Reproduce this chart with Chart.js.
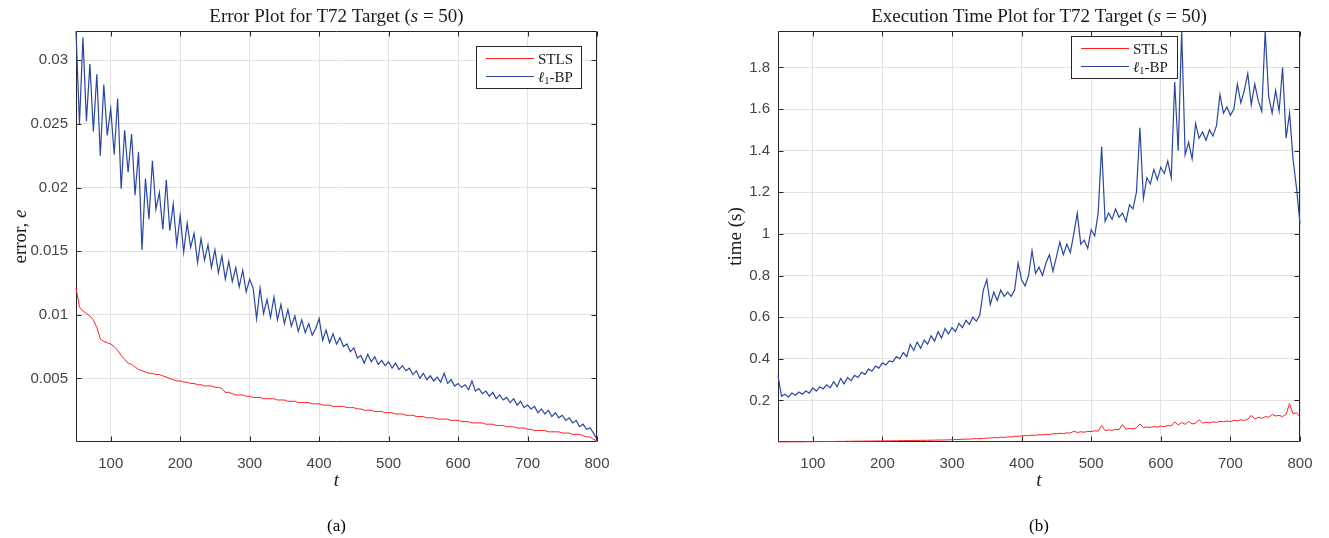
<!DOCTYPE html>
<html><head><meta charset="utf-8">
<script src="https://cdn.jsdelivr.net/npm/chart.js@4.4.1/dist/chart.umd.min.js"></script>
<style>
html,body{margin:0;padding:0;background:#fff;width:1329px;height:538px;overflow:hidden}
#w1{position:absolute;left:0;top:0;width:664px;height:538px}
#w2{position:absolute;left:664px;top:0;width:665px;height:538px}
canvas{display:block}
</style></head><body>
<div id="w1"><canvas id="c1" width="664" height="538"></canvas></div>
<div id="w2"><canvas id="c2" width="665" height="538"></canvas></div>
<script>
// ---- data ----
const T = [50,55,60,65,70,75,80,85,90,95,100,105,110,115,120,125,130,135,140,145,
150,155,160,165,170,175,180,185,190,195,200,205,210,215,220,225,230,235,240,245,
250,255,260,265,270,275,280,285,290,295,300,305,310,315,320,325,330,335,340,345,
350,355,360,365,370,375,380,385,390,395,400,405,410,415,420,425,430,435,440,445,
450,455,460,465,470,475,480,485,490,495,500,505,510,515,520,525,530,535,540,545,
550,555,560,565,570,575,580,585,590,595,600,605,610,615,620,625,630,635,640,645,
650,655,660,665,670,675,680,685,690,695,700,705,710,715,720,725,730,735,740,745,
750,755,760,765,770,775,780,785,790,795,800];

const errSTLS = [
0.0121,0.0106,0.0103,0.0101,0.0099,0.0096,0.0090,0.0081,0.0079,0.0078,
0.0077,0.0075,0.0072,0.0068,0.0065,0.0062,0.0061,0.0059,0.0057,0.0056,
0.0055,0.0054,0.0054,0.0053,0.0053,0.0052,0.0051,0.0050,0.0049,0.0048,
0.0048,0.0047,0.0047,0.0046,0.0046,0.0045,0.0045,0.0044,0.0044,0.0044,
0.0043,0.0043,0.0042,0.0039,0.0039,0.0038,0.0037,0.0037,0.0037,0.0036,
0.0036,0.0035,0.0035,0.0035,0.0034,0.0034,0.0034,0.0034,0.0033,0.0033,
0.0033,0.0032,0.0032,0.0032,0.0031,0.0031,0.0031,0.0031,0.0030,0.0030,
0.0030,0.0029,0.0029,0.0029,0.0028,0.0028,0.0028,0.0028,0.0027,0.0027,
0.0027,0.0026,0.0026,0.0025,0.0025,0.0025,0.0024,0.0024,0.0024,0.0023,
0.0023,0.0023,0.0022,0.0022,0.0022,0.0021,0.0021,0.0021,0.0020,0.0020,
0.0020,0.0019,0.0019,0.0019,0.0018,0.0018,0.0018,0.0018,0.0017,0.0017,
0.0017,0.0016,0.0016,0.0016,0.0015,0.0015,0.0015,0.0015,0.0014,0.0014,
0.0014,0.0013,0.0013,0.0013,0.0012,0.0012,0.0012,0.0011,0.0011,0.0011,
0.0010,0.0010,0.0009,0.0009,0.0009,0.0009,0.0008,0.0008,0.0008,0.0008,
0.0007,0.0007,0.0007,0.0006,0.0006,0.0006,0.0005,0.0004,0.0004,0.0002,
0.0001];

const errBP = [
0.0323,0.0250,0.0318,0.0252,0.0297,0.0244,0.0289,0.0225,0.0281,0.0241,
0.0262,0.0226,0.0270,0.0199,0.0245,0.0212,0.0242,0.0194,0.0228,0.0151,
0.0207,0.0175,0.0221,0.0183,0.0196,0.0167,0.0206,0.0166,0.0187,0.0155,
0.0178,0.0149,0.0172,0.0153,0.0164,0.0141,0.0160,0.0143,0.0155,0.0137,
0.0151,0.0133,0.0146,0.0128,0.0142,0.0126,0.0137,0.0122,0.0135,0.0118,
0.0128,0.0121,0.0097,0.0121,0.0101,0.0112,0.0098,0.0114,0.0096,0.0108,
0.0093,0.0104,0.0091,0.0099,0.0087,0.0096,0.0086,0.0093,0.0084,0.0089,
0.0097,0.0080,0.0088,0.0078,0.0085,0.0077,0.0082,0.0075,0.0077,0.0071,
0.0074,0.0066,0.0068,0.0062,0.0069,0.0063,0.0067,0.0061,0.0064,0.0060,
0.0063,0.0058,0.0062,0.0057,0.0060,0.0056,0.0058,0.0053,0.0056,0.0050,
0.0054,0.0049,0.0052,0.0048,0.0051,0.0047,0.0054,0.0046,0.0049,0.0044,
0.0046,0.0043,0.0045,0.0041,0.0048,0.0040,0.0042,0.0038,0.0040,0.0036,
0.0039,0.0034,0.0037,0.0033,0.0035,0.0031,0.0034,0.0029,0.0032,0.0027,
0.0029,0.0026,0.0028,0.0023,0.0026,0.0022,0.0025,0.0020,0.0023,0.0019,
0.0021,0.0017,0.0019,0.0015,0.0017,0.0012,0.0014,0.0010,0.0011,0.0007,
0.0002];

const timeSTLS = [
0.0005,0.0005,0.0005,0.001,0.001,0.001,0.001,0.001,0.0015,0.0015,
0.0015,0.002,0.002,0.002,0.0025,0.0025,0.0025,0.003,0.003,0.003,
0.0035,0.0035,0.004,0.004,0.004,0.0045,0.0045,0.0045,0.005,0.005,
0.005,0.0055,0.0055,0.006,0.006,0.0065,0.0065,0.007,0.007,0.0075,
0.0075,0.008,0.008,0.0085,0.0085,0.009,0.0095,0.0095,0.010,0.0105,
0.011,0.012,0.012,0.013,0.014,0.014,0.015,0.016,0.016,0.017,
0.019,0.019,0.021,0.020,0.023,0.022,0.025,0.024,0.027,0.028,
0.029,0.031,0.030,0.033,0.032,0.035,0.034,0.037,0.036,0.040,
0.039,0.042,0.040,0.044,0.043,0.052,0.046,0.049,0.047,0.051,
0.050,0.054,0.052,0.079,0.055,0.058,0.056,0.061,0.059,0.084,
0.062,0.065,0.063,0.068,0.087,0.069,0.072,0.070,0.074,0.072,
0.076,0.074,0.079,0.077,0.097,0.082,0.094,0.085,0.099,0.087,
0.090,0.107,0.091,0.095,0.092,0.097,0.094,0.099,0.097,0.101,
0.098,0.104,0.101,0.107,0.104,0.110,0.128,0.111,0.118,0.114,
0.122,0.119,0.132,0.125,0.128,0.122,0.133,0.185,0.135,0.142,
0.120];

const timeBP = [
0.32,0.22,0.23,0.215,0.235,0.225,0.24,0.23,0.245,0.235,
0.26,0.245,0.265,0.255,0.275,0.26,0.29,0.265,0.305,0.28,
0.31,0.295,0.32,0.31,0.335,0.325,0.35,0.34,0.365,0.355,
0.38,0.37,0.39,0.385,0.41,0.40,0.43,0.41,0.47,0.44,
0.48,0.45,0.49,0.47,0.51,0.485,0.53,0.50,0.545,0.52,
0.55,0.53,0.57,0.55,0.585,0.565,0.60,0.58,0.61,0.73,
0.78,0.66,0.72,0.68,0.73,0.70,0.72,0.70,0.73,0.86,
0.78,0.75,0.80,0.92,0.81,0.84,0.80,0.86,0.90,0.82,
0.89,0.96,0.90,0.95,0.91,1.00,1.10,0.95,0.97,0.93,
1.02,0.99,1.10,1.42,1.06,1.10,1.07,1.12,1.08,1.10,
1.06,1.14,1.12,1.20,1.51,1.17,1.27,1.24,1.31,1.26,
1.32,1.29,1.35,1.27,1.73,1.40,1.975,1.38,1.44,1.36,
1.53,1.46,1.49,1.45,1.50,1.47,1.52,1.67,1.58,1.61,
1.57,1.60,1.72,1.63,1.69,1.77,1.62,1.72,1.64,1.59,
1.975,1.66,1.58,1.69,1.59,1.80,1.46,1.58,1.36,1.22,
1.05];

const xTicks = [100,200,300,400,500,600,700,800];
const xTickLabels = ['100','200','300','400','500','600','700','800'];
const errTicks = [0.005,0.01,0.015,0.02,0.025,0.03];
const errTickLabels = ['0.005','0.01','0.015','0.02','0.025','0.03'];
const timeTicks = [0.2,0.4,0.6,0.8,1,1.2,1.4,1.6,1.8];
const timeTickLabels = ['0.2','0.4','0.6','0.8','1','1.2','1.4','1.6','1.8'];
const seriesNames = ['STLS','ℓ1-BP'];

// ---- style ----
const RED = '#ff1f1f';
const BLUE = '#2947a3';
const GRID = '#e2e2e2';
const AXIS = '#262626';
const TICKC = '#444444';
const SERIF = '"Liberation Serif","DejaVu Serif",serif';
const SANS = '"Liberation Sans",Arial,sans-serif';

function drawRuns(ctx, runs, x, y, center){
  let w = 0;
  runs.forEach(r => { ctx.font = r.f; w += ctx.measureText(r.t).width; });
  let cx = center ? x - w/2 : x;
  ctx.textAlign = 'left';
  runs.forEach(r => { ctx.font = r.f; ctx.fillText(r.t, cx, y + (r.dy||0)); cx += ctx.measureText(r.t).width; });
}

const framePlugin = {
  id: 'frame',
  beforeDatasetsDraw(chart){
    const {ctx, chartArea:a, scales} = chart;
    const L = Math.round(a.left)+0.5, R = Math.round(a.right)-0.5, Tp = Math.round(a.top)+0.5, B = Math.round(a.bottom)-0.5;
    ctx.save();
    ctx.strokeStyle = AXIS; ctx.lineWidth = 1;
    ctx.beginPath();
    ctx.rect(L, Tp, R-L, B-Tp);
    const tl = 5;
    scales.x.ticks.forEach(t => {
      const px = Math.round(scales.x.getPixelForValue(t.value)) + 0.5;
      ctx.moveTo(px, B); ctx.lineTo(px, B - tl);
      ctx.moveTo(px, Tp); ctx.lineTo(px, Tp + tl);
    });
    scales.y.ticks.forEach(t => {
      const py = Math.round(scales.y.getPixelForValue(t.value)) + 0.5;
      ctx.moveTo(L, py); ctx.lineTo(L + tl, py);
      ctx.moveTo(R, py); ctx.lineTo(R - tl, py);
    });
    ctx.stroke();
    ctx.restore();
  },
  afterDraw(chart, args, o){
    const {ctx, chartArea:a} = chart;
    const cx = (a.left + a.right)/2, cy = (a.top + a.bottom)/2;
    ctx.save();
    ctx.fillStyle = '#1a1a1a';
    ctx.textBaseline = 'alphabetic';
    // title
    drawRuns(ctx, o.title, cx, 21.5, true);
    // x label
    drawRuns(ctx, [{t:'t', f:'italic 19px '+SERIF}], cx, 486, true);
    // caption
    ctx.fillStyle = '#000';
    drawRuns(ctx, [{t:o.caption, f:'17px '+SERIF}], cx, 531, true);
    // y label
    ctx.fillStyle = '#1a1a1a';
    ctx.save();
    ctx.translate(o.ylabelX, cy);
    ctx.rotate(-Math.PI/2);
    drawRuns(ctx, o.ylabel, 0, 0, true);
    ctx.restore();
    // legend
    const lg = o.legend;
    ctx.fillStyle = '#fff';
    ctx.fillRect(lg.x, lg.y, lg.w, lg.h);
    ctx.strokeStyle = AXIS; ctx.lineWidth = 1;
    ctx.strokeRect(lg.x + 0.5, lg.y + 0.5, lg.w, lg.h);
    const rows = [
      {c:RED, runs:[{t:seriesNames[0], f:'15px '+SERIF}]},
      {c:BLUE, runs:[{t:'ℓ', f:'italic 15px '+SERIF},{t:'1', f:'10.5px '+SERIF, dy:2.5},{t:'-BP', f:'15px '+SERIF}]}
    ];
    rows.forEach((r, i) => {
      const ly = lg.y + 12.5 + i*18;
      ctx.strokeStyle = r.c; ctx.lineWidth = 1.2;
      ctx.beginPath(); ctx.moveTo(lg.x + 10, ly); ctx.lineTo(lg.x + 58, ly); ctx.stroke();
      ctx.fillStyle = '#1a1a1a';
      drawRuns(ctx, r.runs, lg.x + 62, ly + 5, false);
    });
    ctx.restore();
  }
};

function build(id, cfg){
  return new Chart(document.getElementById(id), {
    type: 'line',
    data: { datasets: [
      { label: seriesNames[0], data: T.map((t,i)=>({x:t, y:cfg.red[i]})), borderColor: RED, borderWidth: 1, pointRadius: 0, tension: 0, order: 1, clip: 3 },
      { label: seriesNames[1], data: T.map((t,i)=>({x:t, y:cfg.blue[i]})), borderColor: BLUE, borderWidth: 1.2, pointRadius: 0, tension: 0, order: 0, clip: 3 }
    ]},
    options: {
      responsive: false, animation: false, devicePixelRatio: 1,
      layout: { padding: { left: 0, top: 31, right: cfg.padR, bottom: 0 } },
      plugins: {
        legend: { display: false }, tooltip: { enabled: false }, title: { display: false },
        frame: cfg.annot
      },
      scales: {
        x: {
          type: 'linear', min: 50, max: 800,
          afterBuildTicks: s => { s.ticks = xTicks.map(v => ({value: v})); },
          afterFit: s => { s.height = 96; },
          grid: { color: GRID, drawTicks: false, lineWidth: 1 },
          border: { display: false },
          ticks: { padding: 13, color: TICKC, font: { family: SANS, size: 15 }, maxRotation: 0, autoSkip: false,
                   callback: (v, i) => xTickLabels[i] }
        },
        y: {
          type: 'linear', min: 0, max: cfg.ymax,
          afterBuildTicks: s => { s.ticks = cfg.yTicks.map(v => ({value: v})); },
          afterFit: s => { s.width = cfg.yw; },
          grid: { color: GRID, drawTicks: false, lineWidth: 1 },
          border: { display: false },
          ticks: { padding: 8, color: TICKC, font: { family: SANS, size: 15 }, autoSkip: false,
                   callback: (v, i) => cfg.yLabels[i] }
        }
      }
    },
    plugins: [framePlugin]
  });
}

build('c1', {
  red: errSTLS, blue: errBP, ymax: 0.0323, yTicks: errTicks, yLabels: errTickLabels,
  yw: 76, padR: 67,
  annot: {
    title: [{t:'Error Plot for T72 Target (', f:'19px '+SERIF},{t:'s', f:'italic 19px '+SERIF},{t:' = 50)', f:'19px '+SERIF}],
    caption: '(a)',
    ylabel: [{t:'error, ', f:'19px '+SERIF},{t:'e', f:'italic 19px '+SERIF}],
    ylabelX: 26,
    legend: {x: 476, y: 46, w: 105, h: 42}
  }
});
build('c2', {
  red: timeSTLS, blue: timeBP, ymax: 1.975, yTicks: timeTicks, yLabels: timeTickLabels,
  yw: 114, padR: 29,
  annot: {
    title: [{t:'Execution Time Plot for T72 Target (', f:'19px '+SERIF},{t:'s', f:'italic 19px '+SERIF},{t:' = 50)', f:'19px '+SERIF}],
    caption: '(b)',
    ylabel: [{t:'time (s)', f:'19px '+SERIF}],
    ylabelX: 77,
    legend: {x: 407, y: 36, w: 106, h: 42}
  }
});
</script>
</body></html>
